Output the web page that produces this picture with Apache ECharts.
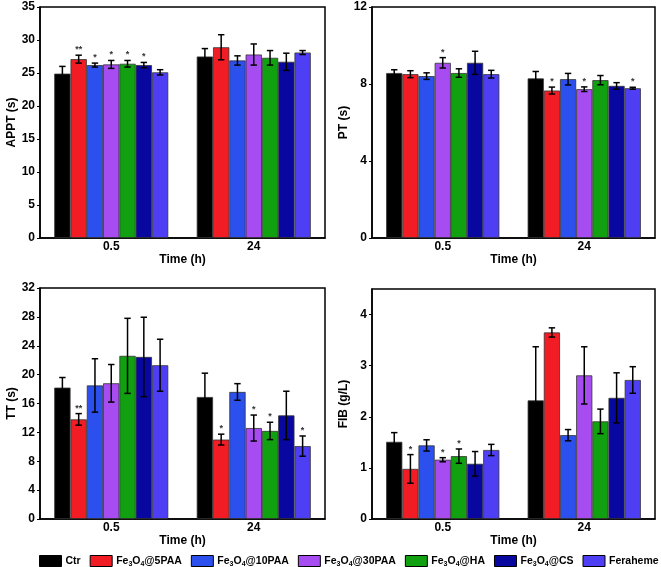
<!DOCTYPE html>
<html><head><meta charset="utf-8">
<script src="https://cdn.jsdelivr.net/npm/echarts@6/dist/echarts.min.js"></script>
<style>html,body{margin:0;padding:0;background:#fff}#c{width:661px;height:567px}</style>
</head><body><div id="c"></div>
<script>
const categories = ['0.5', '24'];
const seriesNames = ['Ctr', 'Fe3O4@5PAA', 'Fe3O4@10PAA', 'Fe3O4@30PAA', 'Fe3O4@HA', 'Fe3O4@CS', 'Feraheme'];
const colors = ['#000000', '#f21c24', '#2c50ee', '#a64cf0', '#10a010', '#0808a0', '#4e3ef4'];

// values per series: [at 0.5 h, at 24 h]
const apptVal = [[24.9, 27.5], [27.1, 28.9], [26.2, 26.9], [26.3, 27.8], [26.4, 27.3], [26.2, 26.7], [25.1, 28.1]];
const apptErr = [[1.1, 1.2], [0.6, 1.9], [0.3, 0.7], [0.6, 1.6], [0.5, 1.1], [0.4, 1.3], [0.4, 0.3]];
const apptStar = [['', ''], ['**', ''], ['*', ''], ['*', ''], ['*', ''], ['*', ''], ['', '']];

const ptVal = [[8.57, 8.29], [8.51, 7.66], [8.41, 8.25], [9.10, 7.73], [8.57, 8.20], [9.10, 7.90], [8.51, 7.78]];
const ptErr = [[0.17, 0.36], [0.18, 0.18], [0.17, 0.30], [0.27, 0.12], [0.22, 0.24], [0.60, 0.17], [0.20, 0.05]];
const ptStar = [['', ''], ['', '*'], ['', ''], ['*', '*'], ['', ''], ['', ''], ['', '*']];

const ttVal = [[18.2, 16.9], [13.8, 11.0], [18.5, 17.6], [18.8, 12.6], [22.6, 12.2], [22.45, 14.35], [21.3, 10.1]];
const ttErr = [[1.4, 3.3], [0.8, 0.75], [3.7, 1.15], [2.6, 1.8], [5.2, 1.2], [5.5, 3.35], [3.6, 1.4]];
const ttStar = [['', ''], ['**', '*'], ['', ''], ['', '*'], ['', '*'], ['', ''], ['', '*']];

const fibVal = [[1.51, 2.32], [0.98, 3.65], [1.44, 1.64], [1.16, 2.81], [1.23, 1.91], [1.08, 2.37], [1.35, 2.72]];
const fibErr = [[0.18, 1.05], [0.28, 0.09], [0.11, 0.11], [0.04, 0.56], [0.14, 0.24], [0.24, 0.49], [0.11, 0.26]];
const fibStar = [['', ''], ['*', ''], ['', ''], ['*', ''], ['*', ''], ['', ''], ['', '']];

const yNames = ['APPT (s)', 'PT (s)', 'TT (s)', 'FIB (g/L)'];
const yMax = [35, 12, 32, 4.5];
const yInterval = [5, 4, 4, 1];
const panels = [
  {val: apptVal, err: apptErr, star: apptStar},
  {val: ptVal, err: ptErr, star: ptStar},
  {val: ttVal, err: ttErr, star: ttStar},
  {val: fibVal, err: fibErr, star: fibStar}
];

const FONT = 'Liberation Sans, Arial, sans-serif';
const grids = [
  {left: 40, top: 7, width: 285, height: 231},
  {left: 372, top: 7, width: 283, height: 231},
  {left: 40, top: 288, width: 285, height: 231},
  {left: 372, top: 289, width: 283, height: 230}
];
const NB = seriesNames.length;
const GAPFRAC = 0.2;

const xAxis = [], yAxis = [], series = [];
grids.forEach((g, gi) => {
  g.show = true; g.borderColor = '#000'; g.borderWidth = 1.5; g.backgroundColor = 'transparent';
  xAxis.push({
    type: 'category', gridIndex: gi, data: categories,
    name: 'Time (h)', nameLocation: 'middle', nameGap: 15,
    nameTextStyle: {fontFamily: FONT, fontWeight: 'bold', fontSize: 12, color: '#000'},
    axisLine: {lineStyle: {color: '#000', width: 1.5}},
    axisTick: {alignWithLabel: true, length: 3, lineStyle: {color: '#000'}},
    axisLabel: {fontFamily: FONT, fontWeight: 'bold', fontSize: 12, color: '#000', margin: 3},
    splitLine: {show: false}
  });
  yAxis.push({
    type: 'value', gridIndex: gi, min: 0, max: yMax[gi], interval: yInterval[gi],
    name: yNames[gi], nameLocation: 'middle', nameGap: 22,
    nameTextStyle: {fontFamily: FONT, fontWeight: 'bold', fontSize: 12, color: '#000'},
    axisLine: {show: true, lineStyle: {color: '#000', width: 1.5}},
    axisTick: {show: true, length: 3, lineStyle: {color: '#000'}},
    axisLabel: {fontFamily: FONT, fontWeight: 'bold', fontSize: 12, color: '#000', margin: 5, showMaxLabel: gi !== 3},
    splitLine: {show: false}
  });
  const p = panels[gi];
  seriesNames.forEach((nm, si) => {
    series.push({
      type: 'bar', name: nm, xAxisIndex: gi, yAxisIndex: gi,
      data: p.val[si], barGap: '0%', barCategoryGap: '20%',
      itemStyle: {color: colors[si], borderColor: '#333', borderWidth: 0.8},
      emphasis: {disabled: true}
    });
  });
  const errData = [];
  seriesNames.forEach((nm, si) => {
    categories.forEach((c, ci) => {
      errData.push([ci, si, p.val[si][ci], p.err[si][ci], p.star[si][ci]]);
    });
  });
  series.push({
    type: 'custom', xAxisIndex: gi, yAxisIndex: gi, z: 10, silent: true,
    data: errData,
    encode: {x: 0, y: 2},
    renderItem: function (params, api) {
      const ci = api.value(0), si = api.value(1), v = api.value(2), e = api.value(3);
      const star = errData[params.dataIndex][4];
      const bandW = api.size([1, 0])[0];
      const barW = bandW * (1 - GAPFRAC) / NB;
      const c0 = api.coord([ci, v]);
      const x = c0[0] - bandW * (1 - GAPFRAC) / 2 + (si + 0.5) * barW;
      const yT = api.coord([ci, v + e])[1];
      const yB = api.coord([ci, v - e])[1];
      const cap = 3.2;
      const st = {stroke: '#000', lineWidth: 1.5};
      const children = [
        {type: 'line', shape: {x1: x, y1: yT, x2: x, y2: yB}, style: st},
        {type: 'line', shape: {x1: x - cap, y1: yT, x2: x + cap, y2: yT}, style: st},
        {type: 'line', shape: {x1: x - cap, y1: yB, x2: x + cap, y2: yB}, style: st}
      ];
      if (star) {
        children.push({type: 'text', style: {text: star, x: x, y: yT - 1, fill: '#333', font: 'bold 9px ' + FONT, textAlign: 'center', textVerticalAlign: 'bottom'}});
      }
      return {type: 'group', children: children};
    }
  });
});

function legendFmt(name) {
  const m = name.match(/^Fe3O4(.*)$/);
  if (m) return '{b|Fe}{s|3}{b|O}{s|4}{b|' + m[1] + '}';
  return '{b|' + name + '}';
}

const option = {
  animation: false,
  backgroundColor: '#fff',
  grid: grids,
  xAxis: xAxis,
  yAxis: yAxis,
  legend: {
    data: seriesNames, left: 34, top: 550, width: 640, itemWidth: 22, itemHeight: 11, itemGap: 9,
    icon: 'rect',
    itemStyle: {borderColor: '#000', borderWidth: 1},
    formatter: legendFmt,
    textStyle: {
      color: '#000', padding: [0, 0, 0, -1],
      rich: {
        b: {fontFamily: FONT, fontWeight: 'bold', fontSize: 10.5, color: '#000', lineHeight: 13},
        s: {fontFamily: FONT, fontWeight: 'bold', fontSize: 7, color: '#000', lineHeight: 7, verticalAlign: 'bottom'}
      }
    }
  },
  series: series
};
const chart = echarts.init(document.getElementById('c'), null, {renderer: 'canvas'});
chart.setOption(option);
</script>
</body></html>
